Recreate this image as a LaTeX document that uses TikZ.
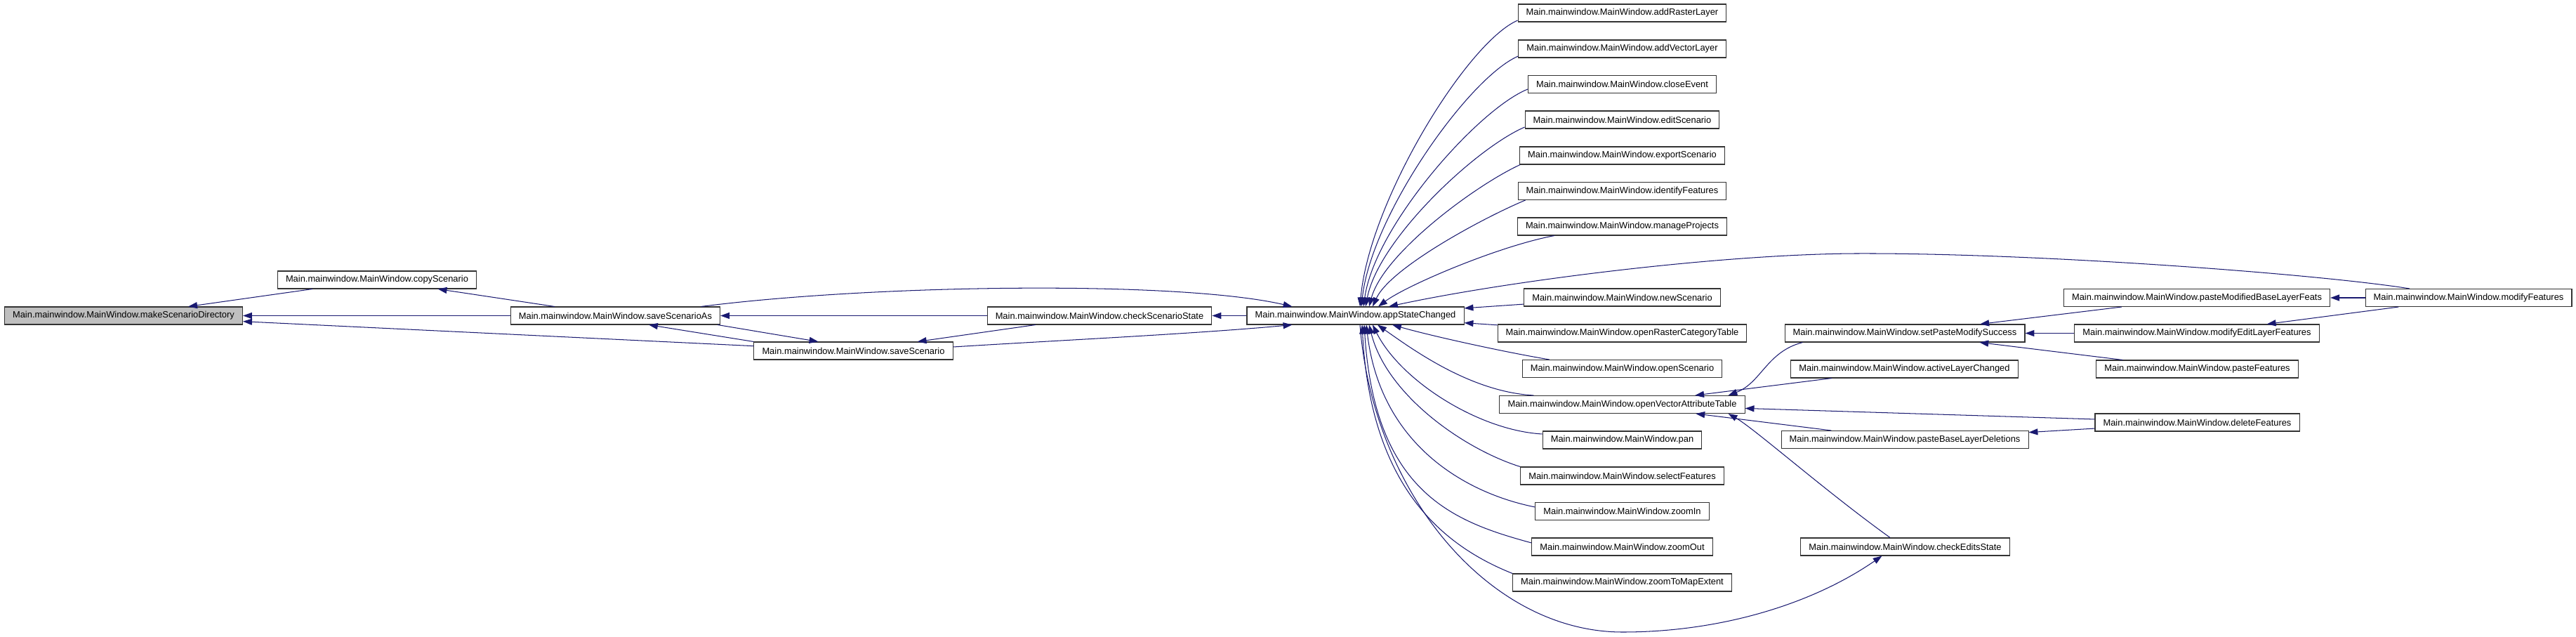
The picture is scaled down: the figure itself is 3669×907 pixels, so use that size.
\documentclass[tikz,border=0pt]{standalone}
\usepackage{fontspec}
\setmainfont{Liberation Sans}
\usepackage{xcolor}
\usetikzlibrary{arrows.meta, calc}
\definecolor{edgeblue}{HTML}{191970}
\definecolor{rootgray}{HTML}{BFBFBF}

\begin{document}
\begin{tikzpicture}[
    x=0.776pt, y=0.776pt,
    font=\fontsize{10}{12}\selectfont,
    fn/.style={rectangle, draw=black!80, line width=0.8pt, fill=white, minimum height=19.4pt, inner xsep=9pt, inner ysep=0pt},
    root/.style={fn, fill=rootgray},
    call/.style={{Triangle[length=10pt, width=7pt]}-, draw=edgeblue, line width=0.8pt}
]
\useasboundingbox (0,0) rectangle (3669,-907);

% Left part
\node[root] (msd) at (176, -449.5) {Main.mainwindow.MainWindow.makeScenarioDirectory};
\node[fn] (copyScn) at (537, -398.5) {Main.mainwindow.MainWindow.copyScenario};
\node[fn] (saveAs) at (876.5, -449.5) {Main.mainwindow.MainWindow.saveScenarioAs};
\node[fn] (saveScn) at (1215.5, -499.5) {Main.mainwindow.MainWindow.saveScenario};
\node[fn] (checkScn) at (1566, -449.5) {Main.mainwindow.MainWindow.checkScenarioState};
\node[fn] (appState) at (1930.5, -449.5) {Main.mainwindow.MainWindow.appStateChanged};

% Callers of appStateChanged
\node[fn] (addRaster) at (2310.5, -18.5) {Main.mainwindow.MainWindow.addRasterLayer};
\node[fn] (addVector) at (2310.5, -69.5) {Main.mainwindow.MainWindow.addVectorLayer};
\node[fn] (closeEv) at (2310.5, -120) {Main.mainwindow.MainWindow.closeEvent};
\node[fn] (editScn) at (2310.5, -170.5) {Main.mainwindow.MainWindow.editScenario};
\node[fn] (exportScn) at (2310.5, -221.5) {Main.mainwindow.MainWindow.exportScenario};
\node[fn] (identF) at (2310.5, -272) {Main.mainwindow.MainWindow.identifyFeatures};
\node[fn] (manageP) at (2310.5, -322.5) {Main.mainwindow.MainWindow.manageProjects};
\node[fn] (newScn) at (2310.5, -423.5) {Main.mainwindow.MainWindow.newScenario};
\node[fn] (openRct) at (2310.5, -474.5) {Main.mainwindow.MainWindow.openRasterCategoryTable};
\node[fn] (openScn) at (2310.5, -525) {Main.mainwindow.MainWindow.openScenario};
\node[fn] (openVat) at (2310.5, -576) {Main.mainwindow.MainWindow.openVectorAttributeTable};
\node[fn] (pan) at (2310.5, -626.5) {Main.mainwindow.MainWindow.pan};
\node[fn] (selectF) at (2310.5, -677.5) {Main.mainwindow.MainWindow.selectFeatures};
\node[fn] (zoomIn) at (2310.5, -728) {Main.mainwindow.MainWindow.zoomIn};
\node[fn] (zoomOut) at (2310.5, -778.5) {Main.mainwindow.MainWindow.zoomOut};
\node[fn] (zoomMap) at (2310.5, -829.5) {Main.mainwindow.MainWindow.zoomToMapExtent};

% Right part
\node[fn] (setPms) at (2713, -474.5) {Main.mainwindow.MainWindow.setPasteModifySuccess};
\node[fn] (activeL) at (2712.5, -525.5) {Main.mainwindow.MainWindow.activeLayerChanged};
\node[fn] (pasteBld) at (2713, -626) {Main.mainwindow.MainWindow.pasteBaseLayerDeletions};
\node[fn] (checkEd) at (2713.5, -778.5) {Main.mainwindow.MainWindow.checkEditsState};
\node[fn] (pasteMbl) at (3129, -424) {Main.mainwindow.MainWindow.pasteModifiedBaseLayerFeats};
\node[fn] (modEdit) at (3129, -474.5) {Main.mainwindow.MainWindow.modifyEditLayerFeatures};
\node[fn] (pasteF) at (3129.5, -525.5) {Main.mainwindow.MainWindow.pasteFeatures};
\node[fn] (deleteF) at (3129.5, -601.5) {Main.mainwindow.MainWindow.deleteFeatures};
\node[fn] (modF) at (3516, -424) {Main.mainwindow.MainWindow.modifyFeatures};

% Calls, left part
\draw[call] (msd) -- (copyScn);
\draw[call] (msd) -- (saveAs);
\draw[call] (msd) -- (saveScn);
\draw[call] (copyScn) -- (saveAs);
\draw[call] ($(saveAs.south)+(47.5,0)$) -- (saveScn.north west);
\draw[call] ($(saveScn.north)+(-50,0)$) -- ($(saveAs.south east)+(-4,0)$);
\draw[call] (saveAs) -- (checkScn);
\draw[call] (saveScn) -- (checkScn);
\draw[call] (checkScn) -- (appState);
\draw[call] ($(appState.north)+(-90,0)$) .. controls +(-160,37) and +(251,32) .. ($(saveAs.north)+(122,0)$);
\draw[call] ($(appState.south)+(-90,0)$) .. controls +(-140,-13) and +(143,9) .. ($(saveScn.east)+(0,5.5)$);

% Calls into appStateChanged, top
\draw[call] ($(appState.north)+(6.5,0)$) .. controls +(13,150) and +(-72,-31) .. ($(addRaster.west)+(0,-10.5)$);
\draw[call] ($(appState.north)+(8.5,0)$) .. controls +(14,130) and +(-70,-30) .. ($(addVector.west)+(0,-10.5)$);
\draw[call] ($(appState.north)+(11.5,0)$) .. controls +(16,115) and +(-70,-28) .. ($(closeEv.west)+(0,-7)$);
\draw[call] ($(appState.north)+(14.5,0)$) .. controls +(18,95) and +(-70,-30) .. ($(editScn.west)+(0,-10.5)$);
\draw[call] ($(appState.north)+(19.5,0)$) .. controls +(20,75) and +(-65,-30) .. ($(exportScn.south west)+(1,0)$);
\draw[call] ($(appState.north)+(24.5,0)$) .. controls +(25,55) and +(-60,-25) .. ($(identF.south west)+(11,0)$);
\draw[call] ($(appState.north)+(32.5,0)$) .. controls +(40,30) and +(-80,-15) .. ($(manageP.south west)+(53,0)$);
\draw[call] ($(appState.north)+(47.5,0)$) .. controls +(172,37) and +(-193,-1) .. (2643,-361)
    .. controls +(257,1) and +(-132,21) .. ($(modF.north)+(-84,0)$);

% Calls into appStateChanged, right and bottom
\draw[call] (appState) -- (newScn);
\draw[call] (appState) -- (openRct);
\draw[call] ($(appState.south)+(52.5,0)$) .. controls +(60,-17) and +(-60,10) .. ($(openScn.north west)+(39,0)$);
\draw[call] ($(appState.south)+(31.5,0)$) .. controls +(50,-35) and +(-90,5) .. ($(openVat.north west)+(49,0)$);
\draw[call] ($(appState.south)+(24.5,0)$) .. controls +(40,-80) and +(-90,5) .. ($(pan.west)+(0,8.5)$);
\draw[call] ($(appState.south)+(19.5,0)$) .. controls +(25,-100) and +(-80,25) .. (selectF.north west);
\draw[call] ($(appState.south)+(15.5,0)$) .. controls +(20,-170) and +(-100,20) .. ($(zoomIn.west)+(0,6)$);
\draw[call] ($(appState.south)+(12.5,0)$) .. controls +(15,-240) and +(-110,30) .. ($(zoomOut.west)+(0,5.5)$);
\draw[call] ($(appState.south)+(9.5,0)$) .. controls +(12,-230) and +(-100,40) .. (zoomMap.north west);
\draw[call] ($(checkEd.south)+(-33,0)$) .. controls +(-100,-69) and +(139,0) .. (2311,-900)
    .. controls +(-191,0) and +(18,-238) .. ($(appState.south)+(6.5,0)$);

% Calls, right part
\draw[call] ($(openVat.north east)+(-24,0)$) .. controls +(47,18) and +(-51,-13) .. ($(setPms.south west)+(26,0)$);
\draw[call] (openVat) -- (activeL);
\draw[call] (openVat) -- (deleteF);
\draw[call] (openVat) -- (pasteBld);
\draw[call] ($(openVat.south east)+(-24,0)$) .. controls +(37,-21) and +(-92,66) .. ($(checkEd.north)+(-21.5,0)$);
\draw[call] (setPms) -- (pasteMbl);
\draw[call] (setPms) -- (modEdit);
\draw[call] (setPms) -- (pasteF);
\draw[call] (pasteMbl) -- (modF);
\draw[call] (modEdit) -- (modF);
\draw[call] (pasteBld) -- (deleteF);

\end{tikzpicture}
\end{document}
